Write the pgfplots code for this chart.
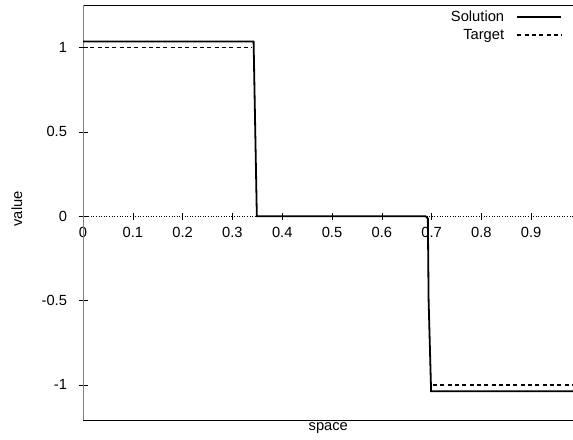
\documentclass[border=0pt]{standalone}
\usepackage{fontspec}
\setmainfont{Liberation Sans}
\usepackage{pgfplots}
\pgfplotsset{compat=1.18}
\usetikzlibrary{calc}
\begin{document}
\begin{tikzpicture}
% zero axis with x ticks
\begin{axis}[name=zx,
  scale only axis, width=490pt, height=414.7pt,
  xmin=0, xmax=0.985, ymin=-1.21, ymax=1.25,
  /pgf/number format/assume math mode=true,
  tick label style={font=\fontsize{14.7}{17}\selectfont},
  tick style={black, line width=0.6pt},
  tick align=center,
  axis x line*=middle, axis y line=none,
  x axis line style={black, dotted, line width=0.6pt},
  xtick={0,0.1,0.2,0.3,0.4,0.5,0.6,0.7,0.8,0.9},
  xticklabels={0,0.1,0.2,0.3,0.4,0.5,0.6,0.7,0.8,0.9},
  major tick length=7pt,
  xticklabel style={yshift=-4pt},
]
\addplot[draw=none] coordinates {(0,0)};
\end{axis}
\begin{axis}[name=ax,
  scale only axis, width=490pt, height=414.7pt,
  xmin=0, xmax=0.985, ymin=-1.21, ymax=1.25,
  /pgf/number format/assume math mode=true,
  tick label style={font=\fontsize{14.7}{17}\selectfont},
  label style={font=\fontsize{14.7}{17}\selectfont},
  tick align=center,
  separate axis lines,
  x axis line style={black, line width=0.8pt},
  y axis line style={gray, line width=1pt},
  xtick=\empty,
  ytick={-1,-0.5,0,0.5,1},
  yticklabels={-1,-0.5,0,0.5,1},
  ytick pos=left,
  ytick style={black, line width=0.6pt},
  major tick length=9pt,
  yticklabel style={xshift=-8pt},
  xlabel={space},
  xlabel style={at={(axis description cs:0.5,0)}, anchor=base, yshift=-10.5pt},
  ylabel={value},
  ylabel style={at={(axis description cs:0,0.5)}, anchor=base, xshift=4pt, yshift=61pt},
]
\addplot[black, line width=1.8pt] coordinates {
(0,1.035) (0.3425,1.035) (0.349,0.0) (0.688,0.0) (0.6925,-0.014) (0.694,-0.5) (0.699,-1.037) (0.985,-1.037)
};
\addplot[black, line width=1.4pt, dash pattern=on 4pt off 3.3pt] coordinates {
(0,1) (0.339,1)
};
\addplot[black, line width=1.4pt, dash pattern=on 4pt off 3.3pt] coordinates {
(0.349,0) (0.688,0)
};
\addplot[black, line width=1.4pt, dash pattern=on 4pt off 3.3pt] coordinates {
(0.703,-1) (0.985,-1)
};
\end{axis}
% legend axis
\begin{axis}[name=lg, scale only axis, width=490pt, height=414.7pt,
  xmin=0, xmax=0.985, ymin=-1.21, ymax=1.25,
  hide axis,
  legend plot pos=right,
  legend cell align=right,
  legend style={draw=white, fill=none, at={(axis description cs:1,1)}, anchor=north east,
    xshift=-8pt, yshift=-1.5pt, row sep=2pt,
    font=\fontsize{14.7}{17}\selectfont},
]
\addplot[draw=none, forget plot] coordinates {(0,0)};
\addlegendimage{legend image code/.code={\path (0pt,0pt); \draw[black, line width=1.8pt, solid] (11pt,0pt) -- (55pt,0pt);}}
\addlegendentry{Solution}
\addlegendimage{legend image code/.code={\path (0pt,0pt); \draw[black, line width=1.4pt, dash pattern=on 4pt off 3.3pt] (11pt,0pt) -- (55pt,0pt);}}
\addlegendentry{Target}
\end{axis}
\pgfresetboundingbox
\path[use as bounding box] ($(ax.south west)+(-83pt,-19pt)$) rectangle ($(ax.north east)+(-0.5pt,5.3pt)$);
\end{tikzpicture}
\end{document}
